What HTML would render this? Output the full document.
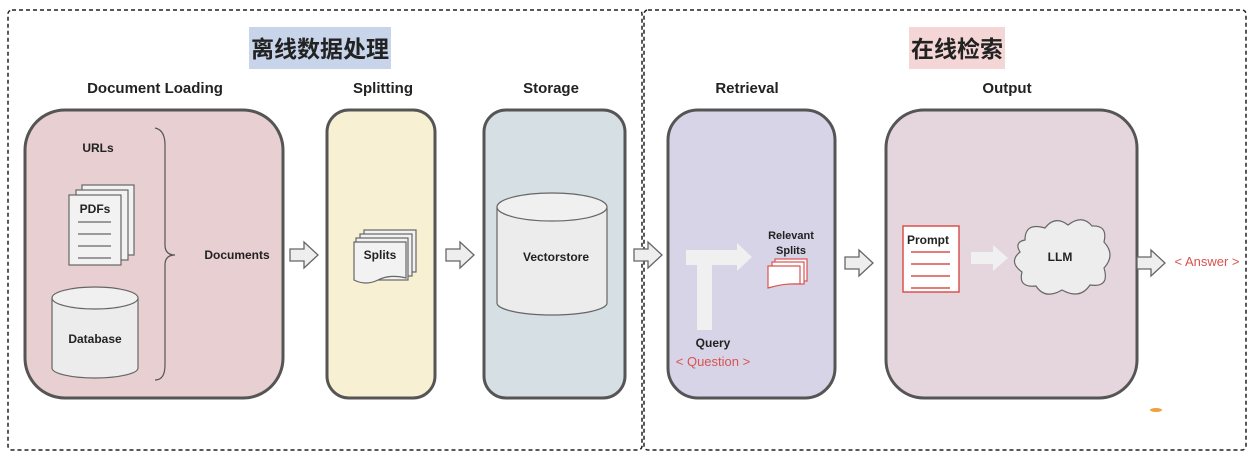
<!DOCTYPE html><html><head><meta charset="utf-8"><style>
body{margin:0;background:#fff;width:1258px;height:462px;overflow:hidden}
svg text{font-family:"Liberation Sans","Noto Sans CJK SC",sans-serif;font-weight:bold;fill:#222}
</style></head><body>
<svg width="1258" height="462" viewBox="0 0 1258 462" xmlns="http://www.w3.org/2000/svg">
<defs>
<g id="arr"><path d="M0,-6 H14 V-13 L28,0 L14,13 V6 H0 Z" fill="#eeeeee" stroke="#666" stroke-width="1.3"/></g>
</defs>
<rect x="8" y="10" width="634" height="440" rx="4" fill="none" stroke="#222" stroke-width="1.5" stroke-dasharray="4,3"/>
<rect x="644" y="10" width="602" height="440" rx="4" fill="none" stroke="#222" stroke-width="1.5" stroke-dasharray="4,3"/>
<rect x="249" y="27" width="142" height="42" fill="#c7d4ea"/>
<text x="320" y="57" font-size="23" text-anchor="middle">离线数据处理</text>
<rect x="909" y="27" width="96" height="42" fill="#f5d6d6"/>
<text x="957" y="57" font-size="23" text-anchor="middle">在线检索</text>
<g font-size="15" text-anchor="middle">
<text x="155" y="93">Document Loading</text><text x="383" y="93">Splitting</text><text x="551" y="93">Storage</text><text x="747" y="93">Retrieval</text><text x="1007" y="93">Output</text>
</g>
<g stroke="#555" stroke-width="3">
<rect x="25" y="110" width="258" height="288" rx="40" fill="#e8cfd1"/>
<rect x="327" y="110" width="108" height="288" rx="22" fill="#f8f0d2"/>
<rect x="484" y="110" width="141" height="288" rx="22" fill="#d5dfe4"/>
<rect x="668" y="110" width="167" height="288" rx="30" fill="#d7d4e7"/>
<rect x="886" y="110" width="251" height="288" rx="38" fill="#e5d5dc"/>
</g>
<use href="#arr" x="290" y="255"/><use href="#arr" x="446" y="255"/><use href="#arr" x="634" y="255"/><use href="#arr" x="845" y="263"/><use href="#arr" x="1137" y="263"/>
<path d="M155,128 Q165,130 165,145 V245 Q165,255 175,255 Q165,255 165,265 V365 Q165,380 155,380" fill="none" stroke="#555" stroke-width="1.2"/>
<g font-size="12">
<text x="98" y="152" text-anchor="middle">URLs</text>
<text x="237" y="259" text-anchor="middle">Documents</text>
</g>
<g fill="#f2f2f2" stroke="#666" stroke-width="1.2">
<rect x="82" y="185" width="52" height="70"/><rect x="76" y="190" width="52" height="70"/><rect x="69" y="195" width="52" height="70"/>
</g>
<text x="95" y="213" font-size="12" text-anchor="middle">PDFs</text>
<g stroke="#666" stroke-width="1.2"><line x1="78" y1="222" x2="111" y2="222"/><line x1="78" y1="234" x2="111" y2="234"/><line x1="78" y1="246" x2="111" y2="246"/><line x1="78" y1="258" x2="111" y2="258"/></g>
<path d="M52,298 V368 A43,10 0 0 0 138,368 V298" fill="#ececec" stroke="#666" stroke-width="1.2"/>
<ellipse cx="95" cy="298" rx="43" ry="11" fill="#f0f0f0" stroke="#666" stroke-width="1.2"/>
<text x="95" y="343" font-size="12" text-anchor="middle">Database</text>
<g fill="#f2f2f2" stroke="#666" stroke-width="1.2">
<rect x="364" y="230" width="52" height="42"/><rect x="360" y="234" width="52" height="42"/><rect x="356" y="238" width="52" height="42"/>
</g>
<path d="M354,242 H406 V278 Q390,274 378,280 Q366,286 354,280 Z" fill="#f2f2f2" stroke="#666" stroke-width="1.2"/>
<text x="380" y="259" font-size="12" text-anchor="middle">Splits</text>
<path d="M497,207 V303 A55,12 0 0 0 607,303 V207" fill="#ececec" stroke="#666" stroke-width="1.2"/>
<ellipse cx="552" cy="207" rx="55" ry="14" fill="#f0f0f0" stroke="#666" stroke-width="1.2"/>
<text x="556" y="261" font-size="12" text-anchor="middle">Vectorstore</text>
<path d="M686,250 H737 V243 L752,257 L737,271 V265 H712 V330 H697 V265 H686 Z" fill="#f0f0f0"/>
<g fill="#fff" stroke="#d9534f" stroke-width="1.2">
<rect x="775" y="259" width="32" height="22"/><rect x="772" y="262" width="32" height="22"/>
<path d="M768,266 H800 V284 Q785,283 768,288 Z"/>
</g>
<g font-size="11" text-anchor="middle"><text x="791" y="239">Relevant</text><text x="791" y="254">Splits</text><text x="713" y="347" font-size="12">Query</text></g>
<text x="713" y="366" font-size="13" text-anchor="middle" style="font-weight:normal;fill:#d9534f">&lt; Question &gt;</text>
<rect x="903" y="226" width="56" height="66" fill="#fff" stroke="#d9534f" stroke-width="1.5"/>
<text x="928" y="244" font-size="12" text-anchor="middle">Prompt</text>
<g stroke="#d9534f" stroke-width="1.5"><line x1="911" y1="252" x2="950" y2="252"/><line x1="911" y1="264" x2="950" y2="264"/><line x1="911" y1="276" x2="950" y2="276"/><line x1="911" y1="288" x2="950" y2="288"/></g>
<path d="M971,252 H993 V245 L1008,258 L993,271 V264 H971 Z" fill="#f0f0f0"/>
<path d="M1025,240 Q1025,222 1045,228 Q1055,215 1068,225 Q1082,214 1092,226 Q1108,225 1104,242 Q1116,255 1104,268 Q1110,288 1090,285 Q1080,300 1062,290 Q1045,300 1036,286 Q1018,288 1022,272 Q1008,262 1020,252 Q1014,242 1025,240 Z" fill="#ededed" stroke="#666" stroke-width="1.2"/>
<text x="1060" y="261" font-size="12" text-anchor="middle">LLM</text>
<text x="1207" y="266" font-size="13" text-anchor="middle" style="font-weight:normal;fill:#d9534f">&lt; Answer &gt;</text>
<ellipse cx="1156" cy="410" rx="6" ry="2" fill="#f0a040"/>
</svg>
</body></html>
